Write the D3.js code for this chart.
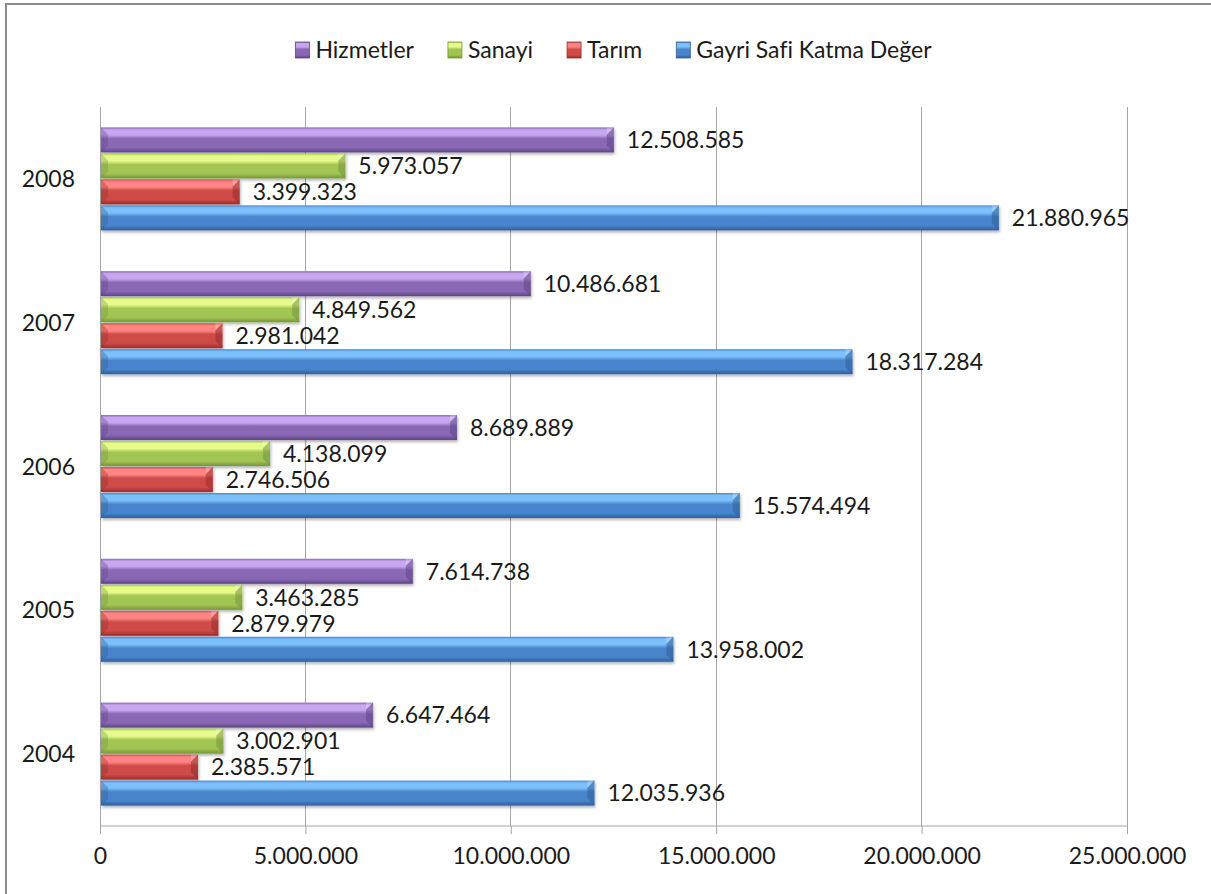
<!DOCTYPE html>
<html><head><meta charset="utf-8">
<script src="https://cdn.jsdelivr.net/npm/d3@7/dist/d3.min.js"></script>
<style>html,body{margin:0;padding:0;background:#fff}svg{display:block}text{font-family:Lato,"Open Sans",sans-serif;fill:#1a1a1a;font-variant-ligatures:none;font-feature-settings:"liga" 0}</style>
</head><body>
<svg id="c" width="1211" height="894"></svg>
<script>
const years = ["2004","2005","2006","2007","2008"];
const seriesNames = ["Hizmetler","Sanayi","Tarım","Gayri Safi Katma Değer"];
const hizmetler = [6647464, 7614738, 8689889, 10486681, 12508585];
const sanayi    = [3002901, 3463285, 4138099, 4849562, 5973057];
const tarim     = [2385571, 2879979, 2746506, 2981042, 3399323];
const gskd      = [12035936, 13958002, 15574494, 18317284, 21880965];
const xTicks = [0, 5000000, 10000000, 15000000, 20000000, 25000000];
const colors = [
  {top:"#c7a8ee", mid:"#8a68b6", bot:"#5e4585"},
  {top:"#e6fb8c", mid:"#a2c552", bot:"#75963a"},
  {top:"#ff8585", mid:"#cf4b47", bot:"#982e2c"},
  {top:"#7cc0fa", mid:"#4a85cc", bot:"#305d98"}
];
const seriesVals = [hizmetler, sanayi, tarim, gskd];

const svg = d3.select("#c");
const fmt = d3.formatLocale({decimal:",", thousands:".", grouping:[3], currency:["",""]}).format(",d");

// outer border
svg.append("rect").attr("x",6).attr("y",4).attr("width",1220).attr("height",900)
  .attr("fill","none").attr("stroke","#8c8c8c").attr("stroke-width",2);

const pLeft = 100, pRight = 1127, pTop = 107, pBottom = 826;
const x = d3.scaleLinear().domain([0, 25000000]).range([pLeft, pRight]);
const y0 = d3.scaleBand().domain(years.slice().reverse()).range([pTop, pBottom]).paddingInner(0.277).paddingOuter(0.1385);
const y1 = d3.scaleBand().domain(seriesNames).range([0, y0.bandwidth()]);

const defs = svg.append("defs");
colors.forEach((c,i)=>{
  const g = defs.append("linearGradient").attr("id","g"+i).attr("x1",0).attr("y1",0).attr("x2",0).attr("y2",1);
  g.append("stop").attr("offset","0").attr("stop-color",c.mid);
  g.append("stop").attr("offset","0.1").attr("stop-color",c.top);
  g.append("stop").attr("offset","0.3").attr("stop-color",c.top);
  g.append("stop").attr("offset","0.45").attr("stop-color",c.mid);
  g.append("stop").attr("offset","0.8").attr("stop-color",c.mid);
  g.append("stop").attr("offset","1").attr("stop-color",c.bot);
});
const f = defs.append("filter").attr("id","sh").attr("x","-5%").attr("y","-20%").attr("width","110%").attr("height","160%");
f.append("feDropShadow").attr("dx",1).attr("dy",2).attr("stdDeviation",1.5).attr("flood-color","#000").attr("flood-opacity",0.3);

// gridlines
svg.append("g").selectAll("line").data(xTicks.slice(1)).join("line")
  .attr("x1",d=>x(d)).attr("x2",d=>x(d)).attr("y1",pTop).attr("y2",pBottom)
  .attr("stroke","#a6a6a6").attr("stroke-width",1).attr("shape-rendering","crispEdges");

// x axis
const xa = svg.append("g").attr("transform",`translate(0,${pBottom})`)
  .call(d3.axisBottom(x).tickValues(xTicks).tickFormat(d=>fmt(d)).tickSize(8).tickPadding(14));
xa.select(".domain").attr("stroke","#a6a6a6").attr("d",`M${pLeft},0H${pRight}`);
xa.selectAll(".tick line").attr("stroke","#a6a6a6");
xa.selectAll(".tick text").attr("font-size",23).attr("font-family","Lato").attr("fill","#1a1a1a");

// y axis line
svg.append("line").attr("x1",pLeft).attr("x2",pLeft).attr("y1",pTop).attr("y2",pBottom+8)
  .attr("stroke","#a6a6a6").attr("shape-rendering","crispEdges");

// year labels
svg.append("g").selectAll("text").data(years).join("text")
  .attr("x",75).attr("y",d=>y0(d)+y0.bandwidth()/2).attr("dy","0.35em")
  .attr("text-anchor","end").attr("font-size",23).text(d=>d);

// bars
const rows = [];
years.forEach((yr,yi)=>{
  seriesNames.forEach((s,si)=>rows.push({yr, s, si, v: seriesVals[si][yi]}));
});
const bars = svg.append("g").selectAll("g").data(rows).join("g")
  .attr("transform",d=>`translate(0,${y0(d.yr)+y1(d.s)})`);
const bh = y1.bandwidth()-1;
bars.append("rect").attr("x",x(0)+1).attr("y",0.5).attr("width",d=>x(d.v)-x(0)-1).attr("height",bh)
  .attr("fill",d=>`url(#g${d.si})`).attr("filter","url(#sh)");
const bev = 7;
// right bevel
bars.append("polygon").attr("points",d=>{
  const x1 = x(d.v);
  return `${x1-bev},${0.5+bev} ${x1},${0.5} ${x1},${0.5+bh} ${x1-bev},${0.5+bh-bev}`;
}).attr("fill",d=>colors[d.si].bot).attr("opacity",0.55);
bars.append("polygon").attr("points",d=>{
  const x1 = x(d.v);
  return `${x1-bev},${0.5+bev} ${x1},${0.5} ${x1-bev},${0.5}`;
}).attr("fill","#fff").attr("opacity",0.25);
// left bevel
bars.append("polygon").attr("points",d=>{
  const x0 = x(0)+1;
  return `${x0},${0.5} ${x0+bev},${0.5+bev} ${x0+bev},${0.5+bh-bev} ${x0},${0.5+bh}`;
}).attr("fill",d=>colors[d.si].bot).attr("opacity",0.35);

// value labels
bars.append("text").attr("x",d=>x(d.v)+13).attr("y",0.5+bh/2).attr("dy","0.36em")
  .attr("font-size",23).text(d=>fmt(d.v));

// legend
const leg = svg.append("g");
const items = leg.selectAll("g").data(seriesNames).join("g");
items.append("rect").attr("width",14).attr("height",16).attr("y",-8)
  .attr("fill",(d,i)=>`url(#g${i})`).attr("stroke",(d,i)=>colors[i].bot).attr("stroke-width",0.8);
items.append("text").attr("x",20).attr("dy","0.35em").attr("font-size",23).text(d=>d);
let cx = 0;
items.each(function(){
  const w = 20 + this.querySelector("text").getComputedTextLength();
  d3.select(this).attr("data-x",cx);
  cx += w + 34;
});
const total = cx - 34;
const startX = (pLeft+pRight)/2 - total/2;
items.attr("transform",function(){return `translate(${startX + (+this.getAttribute("data-x"))},50)`;});
</script>
</body></html>
